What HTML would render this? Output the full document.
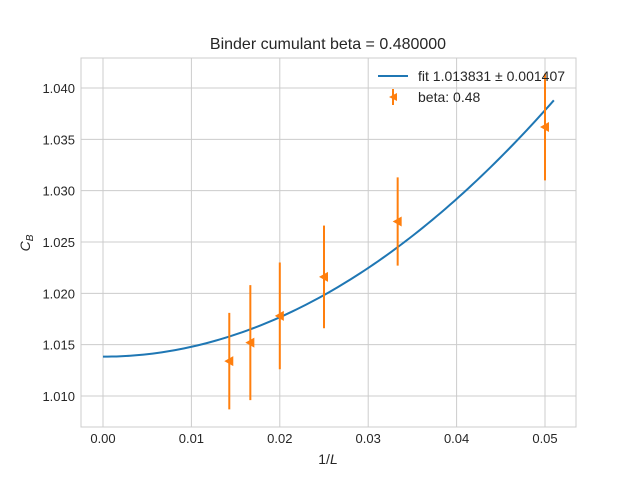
<!DOCTYPE html>
<html><head><meta charset="utf-8"><style>
body{margin:0;background:#fff;font-family:"Liberation Sans","DejaVu Sans",sans-serif}
svg text{font-family:"Liberation Sans","DejaVu Sans",sans-serif;fill:#262626}
</style></head><body>
<svg id="chart" width="640" height="480" xmlns="http://www.w3.org/2000/svg">
<rect width="640" height="480" fill="#fff"/>
<g id="grid"></g>
<g id="fit"></g>
<g id="pts"></g>
<rect x="81" y="58" width="495" height="369" fill="none" stroke="#ccc" stroke-width="1"/>
<text x="328" y="49" text-anchor="middle" font-size="16">Binder cumulant beta = 0.480000</text>
<text x="328" y="464" text-anchor="middle" font-size="14">1/<tspan font-style="italic">L</tspan></text>
<text transform="translate(30,243) rotate(-90)" text-anchor="middle" font-size="14"><tspan font-style="italic">C</tspan><tspan font-style="italic" font-size="10" dy="3">B</tspan></text>
<g>
<line x1="378" y1="76" x2="408" y2="76" stroke="#1f77b4" stroke-width="2"/>
<text x="418" y="81" font-size="14">fit 1.013831 ± 0.001407</text>
<line x1="393" y1="89" x2="393" y2="105" stroke="#ff7f0e" stroke-width="2"/>
<polygon points="389,97 397,93 397,101" fill="#ff7f0e"/>
<text x="418" y="102" font-size="14">beta: 0.48</text>
</g>
</svg>
<script>
const xTicks=[0,0.01,0.02,0.03,0.04,0.05];
const xTickLabels=["0.00","0.01","0.02","0.03","0.04","0.05"];
const yTicks=[1.010,1.015,1.020,1.025,1.030,1.035,1.040];
const yTickLabels=["1.010","1.015","1.020","1.025","1.030","1.035","1.040"];
const xs=[1/70,1/60,1/50,1/40,1/30,1/20];
const ys=[1.0134,1.0152,1.0178,1.0216,1.0270,1.0362];
const errs=[0.0047,0.0056,0.0052,0.0050,0.0043,0.0052];
const fitA=1.013831;
const fitB=9.6;
const fitMaxX=0.051;
const NS="http://www.w3.org/2000/svg";
const X=v=>103+(v-0)*8840;
const Y=v=>396-(v-1.010)*10267;
function mk(tag,attrs,parent){const e=document.createElementNS(NS,tag);for(const k in attrs)e.setAttribute(k,attrs[k]);parent.appendChild(e);return e;}
const grid=document.getElementById('grid');
const svg=document.getElementById('chart');
xTicks.forEach((t,i)=>{
 const l=mk('line',{x1:X(t),x2:X(t),y1:58,y2:427,stroke:'#ccc','stroke-width':1},grid);
 
 
 const tx=mk('text',{x:X(t),y:443,'text-anchor':'middle','font-size':13},svg);
 tx.textContent=xTickLabels[i];
 
 
});
yTicks.forEach((t,i)=>{
 const l=mk('line',{x1:81,x2:576,y1:Y(t),y2:Y(t),stroke:'#ccc','stroke-width':1},grid);
 
 
 const tx=mk('text',{x:75,y:Y(t)+5,'text-anchor':'end','font-size':13},svg);
 tx.textContent=yTickLabels[i];
 
 
});
let d='';
for(let i=0;i<=100;i++){const x=fitMaxX*i/100;d+=(i?'L':'M')+X(x).toFixed(2)+','+Y(fitA+fitB*x*x).toFixed(2);}
const fp=mk('path',{d:d,fill:'none',stroke:'#1f77b4','stroke-width':2},document.getElementById('fit'));


const pts=document.getElementById('pts');
xs.forEach((x,i)=>{
 const px=X(x),py=Y(ys[i]);
 const eb=mk('line',{x1:px,x2:px,y1:Y(ys[i]+errs[i]),y2:Y(ys[i]-errs[i]),stroke:'#ff7f0e','stroke-width':2},pts);
 
 
 const m=mk('polygon',{points:`${px-5},${py} ${px+4},${py-5} ${px+4},${py+5}`,fill:'#ff7f0e'},pts);
 
 
});
</script>
</body></html>
